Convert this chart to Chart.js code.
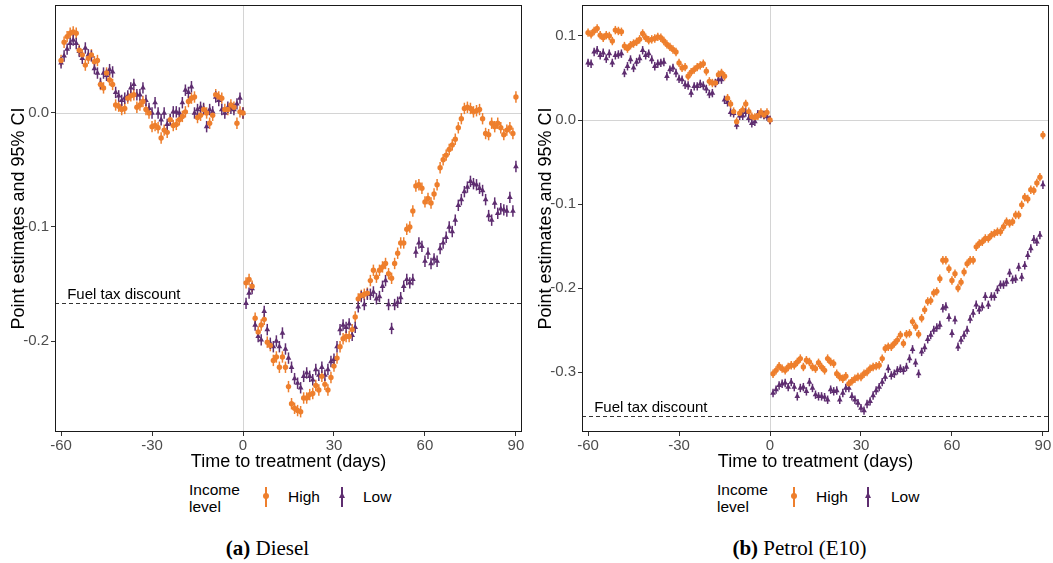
<!DOCTYPE html>
<html>
<head>
<meta charset="utf-8">
<script src="https://cdn.jsdelivr.net/npm/chart.js@4/dist/chart.umd.min.js"></script>
<style>
  body { margin: 0; background: #fff; }
  #page { position: relative; width: 1053px; height: 563px; overflow: hidden; font-family: "Liberation Sans", Arial, sans-serif; }
  .panel { position: absolute; top: 0; width: 527px; height: 475px; }
  .lg-title { position: absolute; top: 481px; font-size: 15.5px; line-height: 17px; color: #000; }
  .lg-text { position: absolute; top: 488px; font-size: 15.5px; line-height: 18px; color: #000; }
  .lg-bar { position: absolute; top: 487px; width: 2px; height: 20px; }
  .lg-dot { position: absolute; top: 493px; width: 6px; height: 6px; border-radius: 50%; }
  .lg-tri { position: absolute; top: 492px; width: 0; height: 0; border-left: 3.5px solid transparent; border-right: 3.5px solid transparent; border-bottom: 6px solid #5e2d70; }
  .caption { position: absolute; top: 536px; width: 527px; text-align: center; font-family: "Liberation Serif", "DejaVu Serif", serif; font-size: 21px; color: #000; }
</style>
</head>
<body>
<div id="page">
  <div class="panel" style="left:0"><canvas id="diesel" width="527" height="475"></canvas></div>
  <div class="panel" style="left:527px"><canvas id="petrol" width="527" height="475"></canvas></div>

  <div class="lg-title" style="left:189px">Income<br>level</div>
  <div class="lg-bar" style="left:265px;background:#ee7f2d"></div>
  <div class="lg-dot" style="left:263px;background:#ee7f2d"></div>
  <div class="lg-text" style="left:288px">High</div>
  <div class="lg-bar" style="left:341px;background:#5e2d70"></div>
  <div class="lg-tri" style="left:338.5px"></div>
  <div class="lg-text" style="left:363px">Low</div>

  <div class="lg-title" style="left:717px">Income<br>level</div>
  <div class="lg-bar" style="left:793px;background:#ee7f2d"></div>
  <div class="lg-dot" style="left:791px;background:#ee7f2d"></div>
  <div class="lg-text" style="left:816px">High</div>
  <div class="lg-bar" style="left:867px;background:#5e2d70"></div>
  <div class="lg-tri" style="left:864.5px"></div>
  <div class="lg-text" style="left:891px">Low</div>

  <div class="caption" style="left:4px"><b>(a)</b> Diesel</div>
  <div class="caption" style="left:536px"><b>(b)</b> Petrol (E10)</div>
</div>

<script>
// days relative to the fuel tax discount
var days = [
  -60, -59, -58, -57, -56, -55, -54, -53, -52, -51,
  -50, -49, -48, -47, -46, -45, -44, -43, -42, -41,
  -40, -39, -38, -37, -36, -35, -34, -33, -32, -31,
  -30, -29, -28, -27, -26, -25, -24, -23, -22, -21,
  -20, -19, -18, -17, -16, -15, -14, -13, -12, -11,
  -10, -9, -8, -7, -6, -5, -4, -3, -2, -1,
  0, 1, 2, 3, 4, 5, 6, 7, 8, 9,
  10, 11, 12, 13, 14, 15, 16, 17, 18, 19,
  20, 21, 22, 23, 24, 25, 26, 27, 28, 29,
  30, 31, 32, 33, 34, 35, 36, 37, 38, 39,
  40, 41, 42, 43, 44, 45, 46, 47, 48, 49,
  50, 51, 52, 53, 54, 55, 56, 57, 58, 59,
  60, 61, 62, 63, 64, 65, 66, 67, 68, 69,
  70, 71, 72, 73, 74, 75, 76, 77, 78, 79,
  80, 81, 82, 83, 84, 85, 86, 87, 88, 89,
  90
];

var dieselHigh = [
  0.046, 0.062, 0.067, 0.070, 0.071, 0.070, 0.055, 0.051, 0.042, 0.048,
  0.051, 0.045, 0.046, 0.025, 0.022, 0.035, 0.029, 0.025, 0.007, 0.006,
  0.003, 0.004, 0.013, 0.015, 0.016, 0.005, 0.007, 0.010, 0.003, 0.000,
  -0.012, -0.011, -0.013, -0.022, -0.015, -0.017, -0.006, -0.011, -0.010, -0.006,
  -0.003, 0.001, 0.010, 0.013, 0.014, -0.004, -0.002, 0.003, 0.000, -0.009,
  -0.002, 0.016, 0.014, 0.013, 0.003, 0.003, 0.007, 0.005, -0.009, 0.001,
  0.000, -0.149, -0.146, -0.152, -0.180, -0.192, -0.186, -0.181, -0.201, -0.204,
  -0.217, -0.214, -0.223, -0.214, -0.223, -0.240, -0.255, -0.259, -0.261, -0.262,
  -0.250, -0.250, -0.247, -0.246, -0.239, -0.243, -0.231, -0.238, -0.243, -0.232,
  -0.222, -0.215, -0.205, -0.198, -0.196, -0.196, -0.190, -0.179, -0.163, -0.160,
  -0.159, -0.158, -0.147, -0.138, -0.144, -0.138, -0.135, -0.132, -0.141, -0.145,
  -0.132, -0.123, -0.114, -0.114, -0.102, -0.100, -0.086, -0.064, -0.063, -0.066,
  -0.078, -0.075, -0.079, -0.071, -0.063, -0.048, -0.041, -0.037, -0.032, -0.028,
  -0.023, -0.013, -0.005, 0.004, 0.005, 0.004, 0.001, 0.002, 0.003, -0.005,
  -0.018, -0.019, -0.009, -0.012, -0.009, -0.013, -0.019, -0.015, -0.013, -0.018,
  0.014
];

var dieselLow = [
  0.044, 0.050, 0.056, 0.061, 0.064, 0.061, 0.054, 0.048, 0.057, 0.051,
  0.050, 0.039, 0.035, 0.026, 0.035, 0.033, 0.038, 0.036, 0.018, 0.015,
  0.011, 0.013, 0.015, 0.022, 0.025, 0.016, 0.016, 0.022, 0.011, 0.004,
  0.000, 0.009, 0.000, -0.006, 0.000, -0.010, -0.006, 0.001, 0.001, 0.000,
  0.009, 0.020, 0.018, 0.023, 0.000, 0.003, 0.005, 0.004, -0.012, 0.003,
  0.001, 0.014, 0.011, 0.003, 0.000, 0.005, 0.004, 0.003, 0.008, 0.013,
  0.000, -0.167, -0.158, -0.154, -0.186, -0.196, -0.199, -0.174, -0.190, -0.202,
  -0.205, -0.200, -0.205, -0.193, -0.207, -0.215, -0.223, -0.233, -0.237, -0.241,
  -0.231, -0.228, -0.231, -0.234, -0.225, -0.230, -0.223, -0.230, -0.225, -0.218,
  -0.216, -0.205, -0.190, -0.186, -0.188, -0.185, -0.195, -0.188, -0.170, -0.161,
  -0.168, -0.159, -0.159, -0.157, -0.163, -0.161, -0.152, -0.147, -0.168, -0.189,
  -0.168, -0.166, -0.162, -0.152, -0.146, -0.149, -0.146, -0.122, -0.114, -0.117,
  -0.130, -0.123, -0.132, -0.128, -0.130, -0.119, -0.114, -0.109, -0.100, -0.104,
  -0.094, -0.081, -0.076, -0.069, -0.065, -0.060, -0.062, -0.063, -0.066, -0.068,
  -0.076, -0.090, -0.094, -0.079, -0.088, -0.084, -0.085, -0.086, -0.074, -0.086,
  -0.047
];

var petrolHigh = [
  0.104, 0.102, 0.106, 0.109, 0.101, 0.098, 0.101, 0.100, 0.094, 0.107,
  0.106, 0.105, 0.088, 0.085, 0.089, 0.091, 0.093, 0.096, 0.103, 0.098,
  0.095, 0.096, 0.097, 0.099, 0.098, 0.094, 0.090, 0.087, 0.084, 0.081,
  0.068, 0.062, 0.063, 0.052, 0.057, 0.060, 0.063, 0.065, 0.067, 0.058,
  0.046, 0.044, 0.044, 0.054, 0.056, 0.052, 0.026, 0.019, 0.010, -0.002,
  0.008, 0.012, 0.019, 0.010, 0.004, 0.003, 0.005, 0.009, 0.006, 0.009,
  0.000, -0.302, -0.298, -0.293, -0.296, -0.298, -0.294, -0.292, -0.292, -0.288,
  -0.284, -0.294, -0.286, -0.288, -0.294, -0.296, -0.289, -0.294, -0.298, -0.284,
  -0.288, -0.290, -0.302, -0.306, -0.308, -0.305, -0.314, -0.311, -0.308, -0.306,
  -0.306, -0.302, -0.300, -0.296, -0.294, -0.293, -0.292, -0.284, -0.272, -0.270,
  -0.270, -0.266, -0.262, -0.256, -0.266, -0.255, -0.254, -0.240, -0.246, -0.255,
  -0.236, -0.226, -0.216, -0.215, -0.206, -0.204, -0.189, -0.167, -0.167, -0.177,
  -0.191, -0.183, -0.200, -0.193, -0.181, -0.171, -0.167, -0.167, -0.151, -0.147,
  -0.145, -0.141, -0.141, -0.137, -0.135, -0.133, -0.133, -0.127, -0.121, -0.123,
  -0.121, -0.113, -0.113, -0.101, -0.092, -0.094, -0.083, -0.084, -0.075, -0.068,
  -0.018
];

var petrolLow = [
  0.068, 0.067, 0.081, 0.083, 0.077, 0.080, 0.073, 0.079, 0.068, 0.077,
  0.078, 0.079, 0.056, 0.064, 0.072, 0.062, 0.069, 0.073, 0.083, 0.077,
  0.079, 0.072, 0.064, 0.067, 0.068, 0.069, 0.052, 0.060, 0.062, 0.056,
  0.049, 0.048, 0.042, 0.041, 0.032, 0.040, 0.040, 0.043, 0.041, 0.037,
  0.031, 0.032, 0.044, 0.048, 0.048, 0.024, 0.021, 0.009, 0.008, -0.006,
  0.005, 0.005, 0.009, 0.002, -0.004, -0.002, 0.007, 0.007, 0.006, 0.004,
  0.000, -0.325, -0.321, -0.316, -0.314, -0.313, -0.318, -0.312, -0.318, -0.329,
  -0.319, -0.318, -0.323, -0.312, -0.319, -0.327, -0.329, -0.329, -0.330, -0.333,
  -0.321, -0.323, -0.322, -0.333, -0.325, -0.319, -0.319, -0.329, -0.333, -0.337,
  -0.343, -0.346, -0.338, -0.335, -0.328, -0.322, -0.318, -0.312, -0.306, -0.296,
  -0.304, -0.302, -0.298, -0.296, -0.298, -0.294, -0.284, -0.273, -0.289, -0.302,
  -0.276, -0.271, -0.261, -0.256, -0.250, -0.247, -0.244, -0.224, -0.222, -0.235,
  -0.254, -0.238, -0.270, -0.262, -0.256, -0.250, -0.237, -0.230, -0.220, -0.226,
  -0.222, -0.210, -0.220, -0.210, -0.210, -0.202, -0.196, -0.196, -0.193, -0.182,
  -0.190, -0.189, -0.175, -0.187, -0.173, -0.161, -0.153, -0.142, -0.145, -0.137,
  -0.077
];

// half width of the 95% CI
var ciHalfWidth = 0.005;

var xTicks = [-60, -30, 0, 30, 60, 90];
var dieselYTicks = [-0.2, -0.1, 0.0];
var petrolYTicks = [-0.3, -0.2, -0.1, 0.0, 0.1];

// fuel tax discount, as share of price
var dieselDiscount = -0.1667;
var petrolDiscount = -0.3524;

var HIGH_COLOR = "#ee7f2d";
var LOW_COLOR = "#5e2d70";

Chart.defaults.font.family = "'Liberation Sans', Arial, sans-serif";

function toPoints(values) {
  return values.map(function (v, i) {
    return { x: days[i], y: v };
  });
}

// vertical CI bars under each marker
var errorBars = {
  id: "errorBars",
  beforeDatasetsDraw: function (chart) {
    var ctx = chart.ctx;
    var xs = chart.scales.x;
    var ys = chart.scales.y;
    ctx.save();
    chart.data.datasets.forEach(function (ds) {
      ctx.strokeStyle = ds.backgroundColor;
      ctx.lineWidth = 1.5;
      ds.data.forEach(function (p) {
        var px = xs.getPixelForValue(p.x);
        ctx.beginPath();
        ctx.moveTo(px, ys.getPixelForValue(p.y - ciHalfWidth));
        ctx.lineTo(px, ys.getPixelForValue(p.y + ciHalfWidth));
        ctx.stroke();
      });
    });
    ctx.restore();
  },
};

// zero lines, discount line with its label, and the panel frame
var refLines = {
  id: "refLines",
  beforeDatasetsDraw: function (chart, args, opts) {
    var ctx = chart.ctx;
    var a = chart.chartArea;
    var xs = chart.scales.x;
    var ys = chart.scales.y;
    var x0 = Math.round(xs.getPixelForValue(0)) + 0.5;
    var y0 = Math.round(ys.getPixelForValue(0)) + 0.5;
    var yd = Math.round(ys.getPixelForValue(opts.discount)) + 0.5;
    ctx.save();
    ctx.strokeStyle = "#d4d4d4";
    ctx.lineWidth = 1;
    ctx.beginPath();
    ctx.moveTo(x0, a.top);
    ctx.lineTo(x0, a.bottom);
    ctx.moveTo(a.left, y0);
    ctx.lineTo(a.right, y0);
    ctx.stroke();

    ctx.strokeStyle = "#333333";
    ctx.setLineDash([4, 3]);
    ctx.beginPath();
    ctx.moveTo(a.left, yd);
    ctx.lineTo(a.right, yd);
    ctx.stroke();
    ctx.setLineDash([]);

    ctx.fillStyle = "#000";
    ctx.font = "15px 'Liberation Sans', Arial, sans-serif";
    ctx.textAlign = "left";
    ctx.textBaseline = "alphabetic";
    ctx.fillText("Fuel tax discount", xs.getPixelForValue(-58), yd - 4.5);
    ctx.restore();
  },
  afterDatasetsDraw: function (chart) {
    var ctx = chart.ctx;
    var a = chart.chartArea;
    ctx.save();
    ctx.strokeStyle = "#1a1a1a";
    ctx.lineWidth = 1;
    ctx.strokeRect(a.left + 0.5, a.top + 0.5, a.right - a.left - 1, a.bottom - a.top - 1);
    ctx.restore();
  },
};

// keep the plot box where the reference has it: no extra room for edge labels
function noEdgePadding(s) {
  s.paddingTop = 0;
  s.paddingBottom = 0;
  s.paddingLeft = 0;
  s.paddingRight = 0;
}

function drawPanel(canvasId, high, low, yMin, yMax, yTicks, discount) {
  return new Chart(document.getElementById(canvasId), {
    type: "scatter",
    data: {
      datasets: [
        {
          label: "High",
          data: toPoints(high),
          backgroundColor: HIGH_COLOR,
          borderWidth: 0,
          pointStyle: "circle",
          pointRadius: 2.7,
        },
        {
          label: "Low",
          data: toPoints(low),
          backgroundColor: LOW_COLOR,
          borderWidth: 0,
          pointStyle: "triangle",
          pointRadius: 3.3,
        },
      ],
    },
    options: {
      responsive: false,
      animation: false,
      events: [],
      layout: { padding: { top: 5, right: 5, left: 0, bottom: 0 } },
      plugins: {
        legend: { display: false },
        tooltip: { enabled: false },
        refLines: { discount: discount },
      },
      scales: {
        x: {
          type: "linear",
          min: -62,
          max: 92,
          afterBuildTicks: function (s) {
            s.ticks = xTicks.map(function (v) { return { value: v }; });
          },
          afterFit: function (s) {
            s.height = 43;
            noEdgePadding(s);
          },
          border: { display: false },
          grid: { drawOnChartArea: false, tickLength: 4, color: "#333333" },
          ticks: {
            color: "#4d4d4d",
            font: { size: 15 },
            padding: 1,
            maxRotation: 0,
            autoSkip: false,
            callback: function (v) { return String(v); },
          },
          title: {
            display: true,
            text: "Time to treatment (days)",
            color: "#000",
            font: { size: 18 },
            padding: { top: 0, bottom: 2 },
          },
        },
        y: {
          type: "linear",
          min: yMin,
          max: yMax,
          afterBuildTicks: function (s) {
            s.ticks = yTicks.map(function (v) { return { value: v }; });
          },
          afterFit: function (s) {
            s.width = 55;
            noEdgePadding(s);
          },
          border: { display: false },
          grid: { drawOnChartArea: false, tickLength: 4, color: "#333333" },
          ticks: {
            color: "#4d4d4d",
            font: { size: 15 },
            padding: 2,
            callback: function (v) { return v.toFixed(1); },
          },
          title: {
            display: true,
            text: "Point estimates and 95% CI",
            color: "#000",
            font: { size: 18 },
            padding: { top: 8, bottom: 0 },
          },
        },
      },
    },
    plugins: [refLines, errorBars],
  });
}

drawPanel("diesel", dieselHigh, dieselLow, -0.2798, 0.0947, dieselYTicks, dieselDiscount);
drawPanel("petrol", petrolHigh, petrolLow, -0.3714, 0.1369, petrolYTicks, petrolDiscount);
</script>
</body>
</html>
